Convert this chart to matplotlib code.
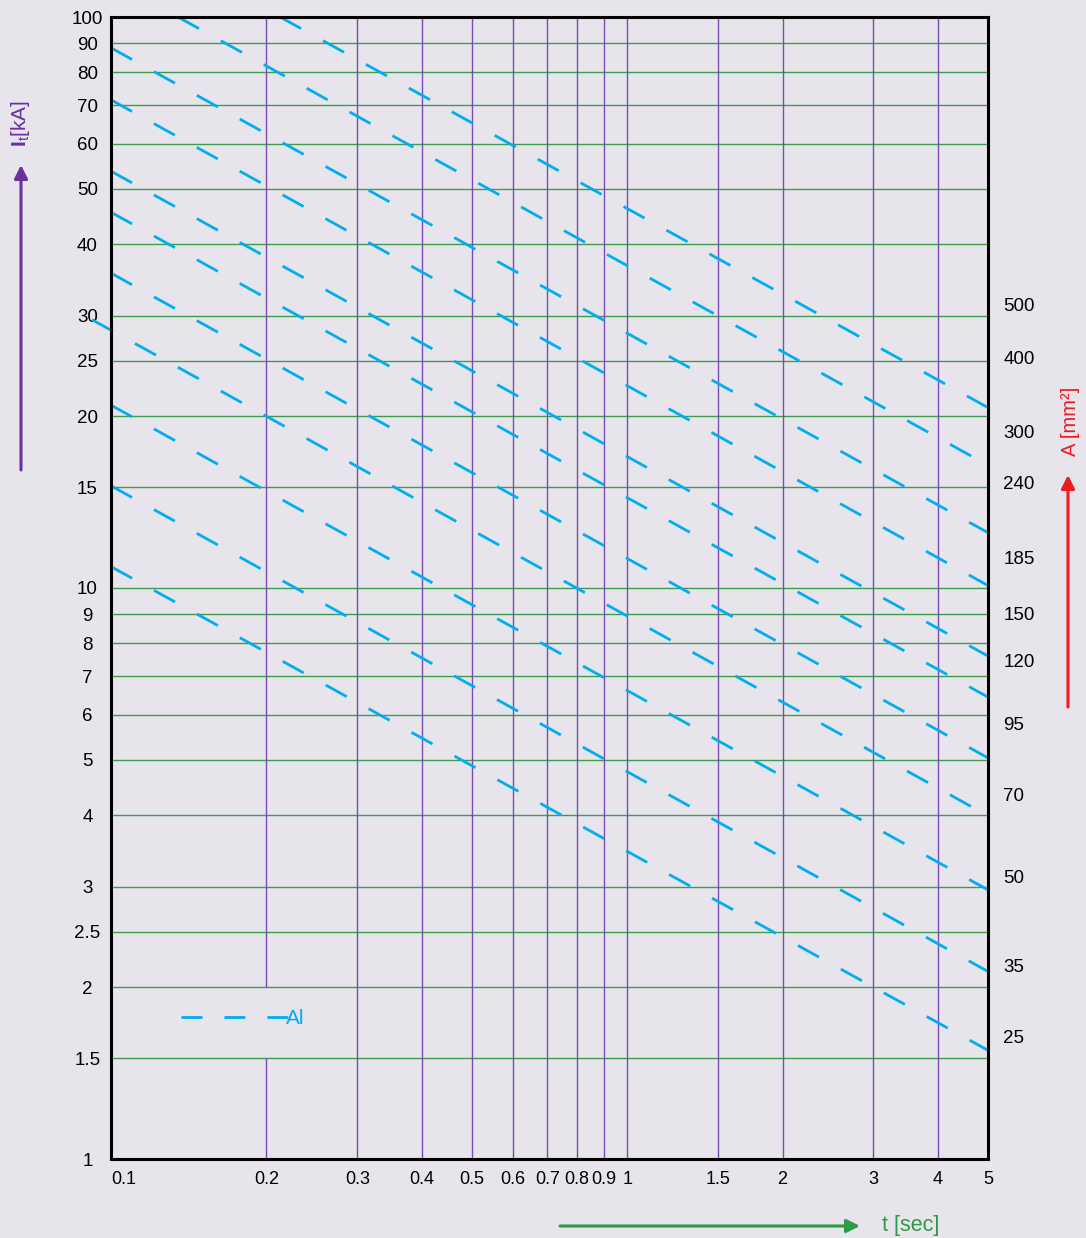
import matplotlib
matplotlib.use('Agg')
import matplotlib.pyplot as plt
from matplotlib.lines import Line2D
from matplotlib.patches import FancyArrowPatch

plt.rcParams['font.family'] = ['Liberation Sans', 'DejaVu Sans']
plt.rcParams['mathtext.fontset'] = 'custom'
plt.rcParams['mathtext.rm'] = 'Liberation Sans'
plt.rcParams['mathtext.bf'] = 'Liberation Sans:bold'
plt.rcParams['lines.scale_dashes'] = False

# t [s] / I [kA] - odczytane punkty poczatku i konca kazdej linii (Al)
t_start = [0.2126, 0.1348, 0.1, 0.1, 0.1, 0.1, 0.1, 0.0919, 0.1, 0.1, 0.1]
i_start = [100, 100, 88.3, 71.6, 53.7, 45.5, 35.6, 29.5, 20.9, 15.1, 10.9]
t_end = [5, 5, 5, 5, 5, 5, 5, 5, 5, 5, 5]
i_end = [20.7, 16.4, 12.5, 10.1, 7.60, 6.44, 5.04, 3.99, 2.96, 2.13, 1.55]
clipped = [True, True, True, True, True, True, True, False, True, True, True]

# przekroje po prawej stronie
a_labels = ['500', '400', '300', '240', '185', '150', '120', '95', '70', '50', '35', '25']
a_pos = [31.4, 25.3, 18.8, 15.3, 11.3, 9.04, 7.45, 5.80, 4.34, 3.12, 2.18, 1.64]

x_ticks = [0.1, 0.2, 0.3, 0.4, 0.5, 0.6, 0.7, 0.8, 0.9, 1, 1.5, 2, 3, 4, 5]
x_labels = ['0.1', '0.2', '0.3', '0.4', '0.5', '0.6', '0.7', '0.8', '0.9', '1',
            '1.5', '2', '3', '4', '5']
y_ticks = [1, 1.5, 2, 2.5, 3, 4, 5, 6, 7, 8, 9, 10, 15, 20, 25, 30, 40, 50, 60,
           70, 80, 90, 100]
y_labels = ['1', '1.5', '2', '2.5', '3', '4', '5', '6', '7', '8', '9', '10', '15',
            '20', '25', '30', '40', '50', '60', '70', '80', '90', '100']
h_grid = [1.5, 2, 2.5, 3, 4, 5, 6, 7, 8, 9, 10, 15, 20, 25, 30, 40, 50, 60, 70, 80, 90]
v_grid = [0.2, 0.3, 0.4, 0.5, 0.6, 0.7, 0.8, 0.9, 1, 1.5, 2, 3, 4]
gap_lo, gap_hi = 1.5, 2  # przerwa linii 0.2 przy legendzie

bg = '#e7e5eb'
cyan = '#00aeef'
green = '#3f9a4e'
purple_grid = '#7a4cb2'
purple = '#6b2fa0'
red = '#ed1c24'
green_txt = '#2e9a44'

W, H = 1086, 1238
fig = plt.figure(figsize=(W / 100, H / 100), dpi=100, facecolor=bg)
ax = fig.add_axes([111 / W, 1 - 1159 / H, 877 / W, 1142 / H])
ax.set_facecolor('none')
ax.set_xscale('log')
ax.set_yscale('log')
ax.set_xlim(0.1, 5)
ax.set_ylim(1, 100)

ax.hlines(h_grid, 0.1, 5, color=green, lw=1.0, zorder=1)
for t in v_grid:
    if t == 0.2:
        ax.vlines([t, t], [1, gap_hi], [gap_lo, 100], color=purple_grid, lw=1.0, zorder=1)
    else:
        ax.vlines(t, 1, 100, color=purple_grid, lw=1.0, zorder=1)

for t0, i0, t1, i1, c in zip(t_start, i_start, t_end, i_end, clipped):
    ax.plot([t0, t1], [i0, i1], color=cyan, lw=2, dashes=(17.3, 18),
            clip_on=c, zorder=3)

ax.set_xticks(x_ticks, labels=x_labels)
ax.set_yticks(y_ticks, labels=y_labels)
ax.minorticks_off()
ax.tick_params(length=0)
ax.tick_params(axis='x', pad=9, labelsize=13)
ax.tick_params(axis='y', pad=17, labelsize=13.5)
for lbl in ax.get_yticklabels():
    lbl.set_horizontalalignment('center')
ax.get_xticklabels()[0].set_horizontalalignment('left')
for s in ax.spines.values():
    s.set_linewidth(2.2)
    s.set_color('black')
    s.set_zorder(4)

ax2 = ax.twinx()
ax2.set_yscale('log')
ax2.set_ylim(1, 100)
ax2.set_yticks(a_pos, labels=a_labels)
ax2.minorticks_off()
ax2.tick_params(length=0, labelsize=13.5, pad=11)
for s in ax2.spines.values():
    s.set_visible(False)

proxy = Line2D([], [], color=cyan, lw=2, dashes=(15.1, 15.8))
ax.legend([proxy], ['Al'], loc='center left', bbox_to_anchor=(181 / W, 1 - 1019 / H),
          bbox_transform=fig.transFigure, frameon=False, handlelength=5.25,
          handletextpad=-0.2, borderpad=0, borderaxespad=0, fontsize=15,
          labelcolor=cyan)


def arrow(x0, y0, x1, y1, col):
    a = FancyArrowPatch((x0 / W, 1 - y0 / H), (x1 / W, 1 - y1 / H),
                        transform=fig.transFigure, color=col, lw=2.2,
                        arrowstyle='-|>,head_length=0.4,head_width=0.2',
                        mutation_scale=20, shrinkA=0, shrinkB=0)
    fig.add_artist(a)


arrow(21, 470, 21, 165, purple)
arrow(1068, 707, 1068, 475, red)
arrow(560, 1226, 860, 1226, green_txt)

fig.text(21 / W, 1 - 123 / H, r'$\mathbf{I}_{\mathrm{t}}$[kA]', rotation=90,
         ha='center', va='center', color=purple, fontsize=15)
fig.text(1071 / W, 1 - 421 / H, 'A [mm²]', rotation=90, ha='center', va='center',
         color=red, fontsize=14.5)
fig.text(882 / W, 1 - 1225 / H, 't [sec]', ha='left', va='center',
         color=green_txt, fontsize=15.5)

fig.savefig('out.png', dpi=100, facecolor=bg)
